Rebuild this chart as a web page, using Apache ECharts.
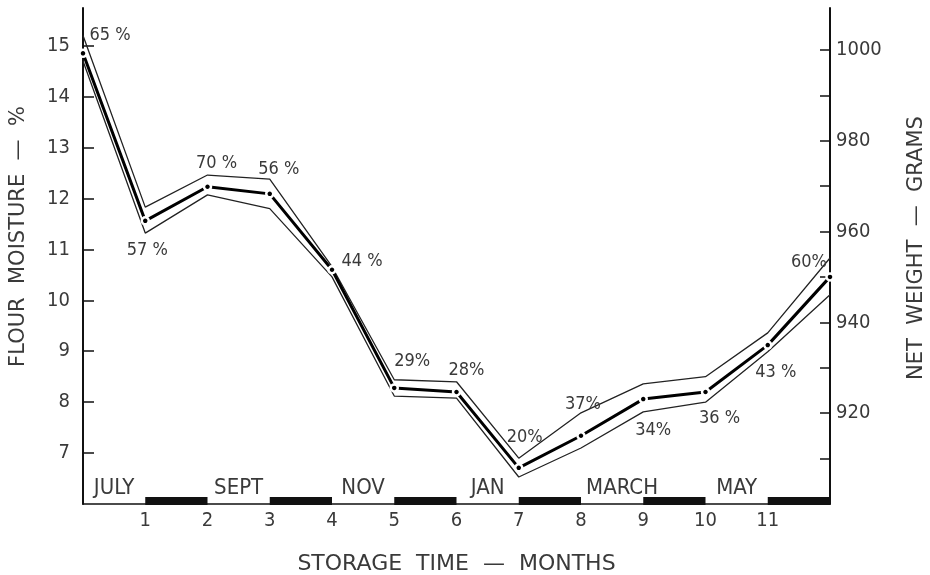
<!DOCTYPE html>
<html>
<head>
<meta charset="utf-8">
<script src="https://cdn.jsdelivr.net/npm/echarts@6/dist/echarts.min.js"></script>
<style>
  html, body { margin: 0; padding: 0; background: #fff; }
  #chart { width: 930px; height: 575px; }
</style>
</head>
<body>
<div id="chart"></div>
<script>
// Storage months (x) and flour moisture readings (%), with the upper and lower band lines
const months = [0, 1, 2, 3, 4, 5, 6, 7, 8, 9, 10, 11, 12];
const moisture = [14.85, 11.56, 12.23, 12.09, 10.6, 8.28, 8.2, 6.71, 7.34, 8.06, 8.2, 9.12, 10.46];
const upperBand = [15.2, 11.83, 12.46, 12.38, 10.66, 8.44, 8.4, 6.9, 7.79, 8.36, 8.5, 9.36, 10.83];
const lowerBand = [14.7, 11.32, 12.07, 11.8, 10.46, 8.12, 8.08, 6.53, 7.1, 7.81, 8.0, 8.99, 10.11];
// Relative humidity noted at each reading
const humidity = ['65 %', '57 %', '70 %', '56 %', '44 %', '29%', '28%', '20%', '37%', '34%', '36 %', '43 %', '60%'];

// Calendar months along the storage axis
const monthNames = ['JULY', 'SEPT', 'NOV', 'JAN', 'MARCH', 'MAY'];
const monthCenters = [0.5, 2.5, 4.5, 6.5, 8.66, 10.5];
const darkSpans = [[1, 2], [3, 4], [5, 6], [7, 8], [9, 10], [11, 12]];

// Tick values
const xTickLabels = [1, 2, 3, 4, 5, 6, 7, 8, 9, 10, 11];
const leftTicks = [7, 8, 9, 10, 11, 12, 13, 14, 15];
const rightTicks = [910, 920, 930, 940, 950, 960, 970, 980, 990, 1000];
const rightLabels = [920, 940, 960, 980, 1000];

// Offsets of the humidity labels from their points (pixels)
const labelOffsets = [[27, -18], [2, 29], [9, -23], [9, -25], [30, -8], [18, -27], [10, -22],
                      [6, -31], [2, -31], [10, 31], [14, 26], [8, 27], [-21, -15]];

const NARROW = '"DejaVu Sans Condensed", "DejaVu Sans", sans-serif';
const WIDE = '"DejaVu Sans", sans-serif';
const INK = '#3a3a3a';
const LINE = '#111';

const chart = echarts.init(document.getElementById('chart'), null, { renderer: 'canvas' });

const pair = (ys) => months.map((m, i) => [m, ys[i]]);

chart.setOption({
  animation: false,
  backgroundColor: '#fff',
  grid: { left: 83, right: 100, top: 8, bottom: 71, outerBoundsMode: 'none', containLabel: false },
  xAxis: {
    type: 'value', min: 0, max: 12, interval: 1,
    name: 'STORAGE  TIME  —  MONTHS', nameLocation: 'middle', nameGap: 49,
    nameTextStyle: { fontFamily: WIDE, fontSize: 22, color: INK },
    axisLine: { show: true, onZero: false, lineStyle: { color: LINE, width: 1.5 } },
    axisTick: { show: false },
    splitLine: { show: false },
    axisLabel: {
      customValues: xTickLabels, margin: 7,
      fontFamily: NARROW, fontSize: 20, color: INK
    }
  },
  yAxis: [
    {
      type: 'value', min: 6, max: 15.74, position: 'left',
      name: 'FLOUR  MOISTURE  —  %', nameLocation: 'middle', nameRotate: 90, nameGap: 54,
      nameTextStyle: { fontFamily: WIDE, fontSize: 21, color: INK, padding: [0, 0, 0, 39] },
      axisLine: { show: true, onZero: false, lineStyle: { color: LINE, width: 2 } },
      axisTick: { show: true, inside: true, length: 11, customValues: leftTicks, lineStyle: { color: LINE, width: 1.5 } },
      splitLine: { show: false },
      axisLabel: { customValues: leftTicks, margin: 13, fontFamily: NARROW, fontSize: 20, color: INK }
    },
    {
      type: 'value', min: 900, max: 1009.25, position: 'right',
      name: 'NET  WEIGHT  —  GRAMS', nameLocation: 'middle', nameRotate: 90, nameGap: 76,
      nameTextStyle: { fontFamily: WIDE, fontSize: 21, color: INK, padding: [0, 0, 0, 16] },
      axisLine: { show: true, onZero: false, lineStyle: { color: LINE, width: 2 } },
      axisTick: { show: true, inside: true, length: 10, customValues: rightTicks, lineStyle: { color: LINE, width: 1.5 } },
      splitLine: { show: false },
      axisLabel: {
        customValues: rightLabels, margin: 6, fontFamily: NARROW, fontSize: 20, color: INK,
        formatter: (v) => String(v)
      }
    }
  ],
  series: [
    {
      name: 'upper', type: 'line', data: pair(upperBand), symbol: 'none',
      lineStyle: { color: '#222', width: 1.3 }, z: 2
    },
    {
      name: 'lower', type: 'line', data: pair(lowerBand), symbol: 'none',
      lineStyle: { color: '#222', width: 1.3 }, z: 2
    },
    {
      name: 'moisture', type: 'line',
      data: months.map((m, i) => ({
        value: [m, moisture[i]],
        label: { offset: labelOffsets[i] }
      })),
      symbol: 'circle', symbolSize: 7,
      itemStyle: { color: '#000', borderColor: '#fff', borderWidth: 2.5 },
      lineStyle: { color: '#000', width: 3 },
      label: {
        show: true, position: 'inside', align: 'center', verticalAlign: 'middle',
        formatter: (p) => humidity[p.dataIndex],
        fontFamily: NARROW, fontSize: 18, color: INK
      },
      z: 4
    },
    {
      // dark month bars lying on the time axis
      name: 'bars', type: 'custom',
      data: darkSpans,
      renderItem: (params, api) => {
        const a = api.coord([api.value(0), 6]);
        const b = api.coord([api.value(1), 6]);
        return { type: 'rect', shape: { x: a[0], y: a[1] - 7, width: b[0] - a[0], height: 8 }, style: { fill: '#111' } };
      },
      z: 3
    },
    {
      name: 'months', type: 'scatter', symbolSize: 0,
      data: monthCenters.map((c) => [c, 6.3]),
      itemStyle: { opacity: 1 },
      label: {
        show: true, position: 'inside', align: 'center', verticalAlign: 'middle',
        formatter: (p) => monthNames[p.dataIndex],
        fontFamily: NARROW, fontSize: 22, color: INK
      },
      z: 3
    }
  ]
});
</script>
</body>
</html>
